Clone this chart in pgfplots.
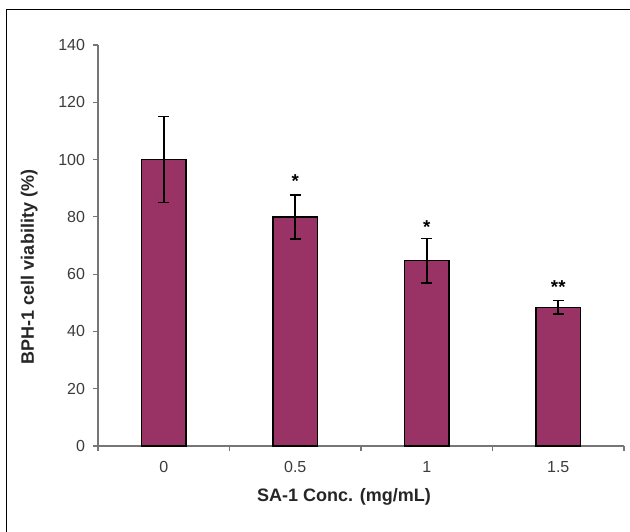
\documentclass[border=0pt]{standalone}
\usepackage{pgfplots}
\pgfplotsset{compat=1.18}
\usepackage{fontspec}
\setmainfont{Liberation Sans}
\definecolor{barplum}{HTML}{993366}
\definecolor{axisgray}{HTML}{767676}
\definecolor{txtgray}{HTML}{3C3C3C}
\definecolor{lblgray}{HTML}{262626}

\begin{document}
\begin{tikzpicture}
% page is 630 x 531 px, 1 px = 0.75pt
\useasboundingbox (0pt,0pt) rectangle (472.5pt,-398.25pt);
\draw[line width=1.1pt] (4.9pt,-7pt) rectangle (480pt,-410pt);

\begin{axis}[
    at={(73.5pt,-334.5pt)}, anchor=south west,
    scale only axis, width=394.5pt, height=300.75pt,
    xmin=-0.5, xmax=3.5, ymin=0, ymax=140,
    axis x line*=bottom, axis y line*=left,
    axis line style={axisgray, line width=0.8pt, -},
    ytick={0,20,...,140},
    xtick={0,1,2,3}, xticklabels={0,0.5,1,1.5},
    minor xtick={-0.5,0.5,1.5,2.5,3.5},
    major x tick style={draw=none},
    tick align=outside,
    major tick length=3.75pt, minor tick length=3.75pt,
    tick style={axisgray, line width=0.8pt},
    ticklabel style={font=\fontsize{12}{14}\selectfont, text=txtgray},
    yticklabel style={xshift=-2.5pt},
    xticklabel style={yshift=-4.5pt},
    /pgf/number format/assume math mode=true,
    ybar, bar width=0.335,
]
\addplot[fill=barplum, draw=black, line width=1.1pt,
    error bars/.cd, y dir=both, y explicit,
    error bar style={line width=1.2pt, black},
    error mark options={black, line width=1.2pt, mark size=4pt, rotate=90}]
table[x=x, y=y, y error=e] {
x y e
0 100 15
1 80 7.7
2 64.7 7.7
3 48.4 2.4
};
\node[font=\bfseries\fontsize{14}{14}\selectfont] at (axis cs:1,92.5) {*};
\node[font=\bfseries\fontsize{14}{14}\selectfont] at (axis cs:2,76.5) {*};
\node[font=\bfseries\fontsize{14}{14}\selectfont] at (axis cs:3,55.5) {**};
\end{axis}

\node[font=\bfseries\fontsize{13.5}{15}\selectfont, text=lblgray] at (258pt,-373pt) {SA-1 Conc. (mg/mL)};
\node[font=\bfseries\fontsize{13.5}{15}\selectfont, text=lblgray, rotate=90] at (22pt,-200.25pt) {BPH-1 cell viability (\%)};
\end{tikzpicture}
\end{document}
